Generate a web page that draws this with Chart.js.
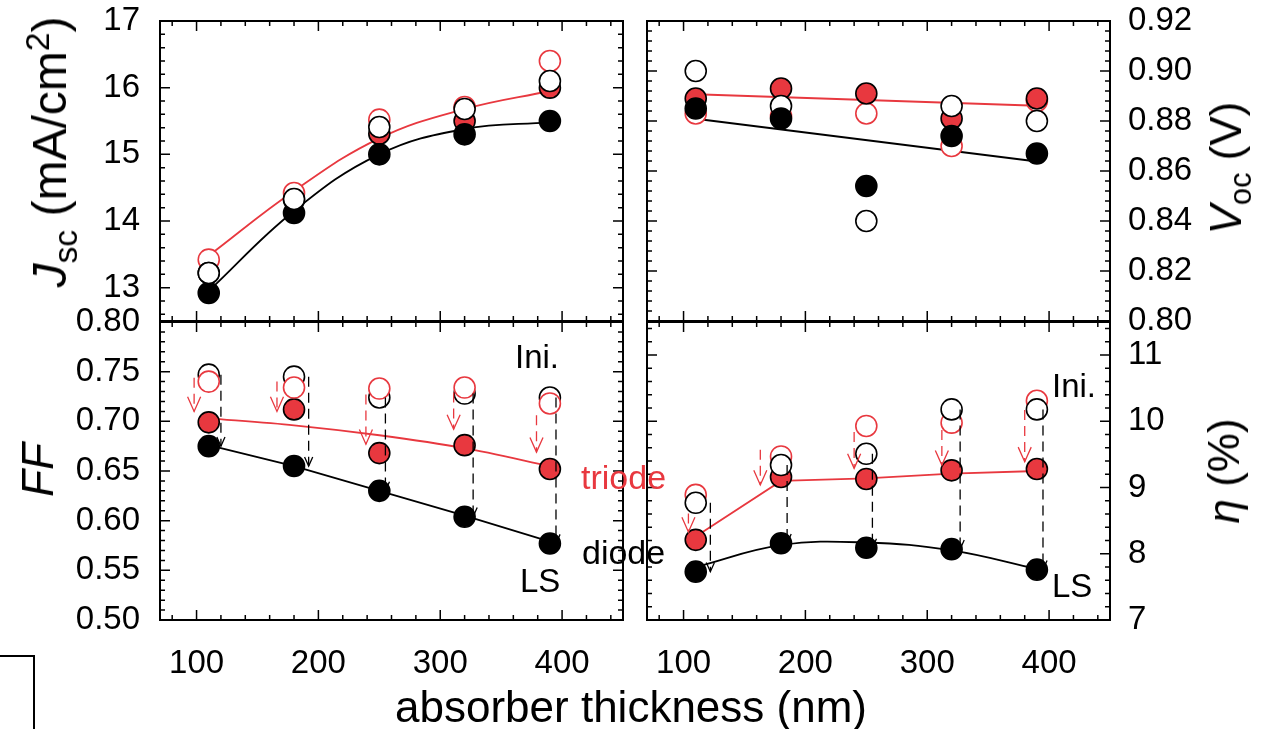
<!DOCTYPE html>
<html>
<head>
<meta charset="utf-8">
<script src="https://cdn.jsdelivr.net/npm/chart.js@4.4.0/dist/chart.umd.min.js"></script>
<style>
  body { margin: 0; background: #fff; width: 1263px; height: 729px; overflow: hidden; position: relative;
         font-family: "Liberation Sans", Arial, sans-serif; }
  canvas { position: absolute; left: 0; top: 0; }
  .t { position: absolute; white-space: nowrap; line-height: 1; color: #000; transform: translate(-50%, -50%); }
  .r { transform: translate(-50%, -50%) rotate(-90deg); }
  .note { position: absolute; white-space: nowrap; line-height: 1; font-size: 33px; transform: translateY(-50%); }
  sub, sup { font-size: 70%; line-height: 0; }
</style>
</head>
<body>
<canvas id="jsc" width="1263" height="729"></canvas>
<canvas id="voc" width="1263" height="729"></canvas>
<canvas id="ff" width="1263" height="729"></canvas>
<canvas id="eff" width="1263" height="729"></canvas>

<div class="t r" style="left:50px;top:152px;font-size:48px;"><i>J</i><sub>sc</sub> (mA/cm<sup>2</sup>)</div>
<div class="t r" style="left:38px;top:470px;font-size:44px;"><i>FF</i></div>
<div class="t r" style="left:1226px;top:168px;font-size:44px;"><i>V</i><sub>oc</sub> (V)</div>
<div class="t r" style="left:1224px;top:471px;font-size:44px;"><i>η</i> (%)</div>
<div class="t" style="left:631px;top:707px;font-size:44px;">absorber thickness (nm)</div>

<div class="note" style="left:515px;top:356px;">Ini.</div>
<div class="note" style="left:520px;top:580px;">LS</div>
<div class="note" style="left:1052px;top:385px;">Ini.</div>
<div class="note" style="left:1052px;top:585px;">LS</div>
<div class="note" style="left:581px;top:477px;color:#e8383f;font-size:34px;">triode</div>
<div class="note" style="left:582px;top:552px;font-size:34px;">diode</div>

<div style="position:absolute;left:0;top:655px;width:33px;height:90px;border-top:2px solid #000;border-right:2px solid #000;"></div>

<script>
// absorber thickness (nm)
const thickness = [110, 180, 250, 320, 390];
const xTicks = [100, 200, 300, 400];

// Jsc (mA/cm2)
const jscTriodeIni = [13.42, 14.42, 15.52, 15.71, 16.40];
const jscTriodeLS  = [13.22, 14.32, 15.31, 15.50, 16.00];
const jscDiodeIni  = [13.22, 14.33, 15.41, 15.68, 16.10];
const jscDiodeLS   = [12.92, 14.12, 15.00, 15.30, 15.50];
const jscTriodeFit = [13.48, 14.45, 15.24, 15.68, 15.95];
const jscDiodeFit  = [12.95, 14.15, 15.00, 15.38, 15.48];
const jscTicks = [13, 14, 15, 16, 17];

// Voc (V)
const vocTriodeIni = [0.883, 0.882, 0.883, 0.870, 0.888];
const vocTriodeLS  = [0.889, 0.893, 0.891, 0.881, 0.889];
const vocDiodeIni  = [0.900, 0.886, 0.840, 0.886, 0.880];
const vocDiodeLS   = [0.885, 0.881, 0.854, 0.874, 0.867];
const vocFitX      = [110, 390];
const vocTriodeFit = [0.8907, 0.8861];
const vocDiodeFit  = [0.8809, 0.8638];
const vocTicks = [0.80, 0.82, 0.84, 0.86, 0.88, 0.90, 0.92];

// FF
const ffTriodeIni = [0.740, 0.734, 0.733, 0.734, 0.718];
const ffTriodeLS  = [0.699, 0.712, 0.668, 0.676, 0.652];
const ffDiodeIni  = [0.747, 0.745, 0.724, 0.728, 0.724];
const ffDiodeLS   = [0.675, 0.655, 0.630, 0.604, 0.577];
const ffTriodeFit = [0.703, 0.696, 0.686, 0.673, 0.655];
const ffDiodeFit  = [0.676, 0.655, 0.630, 0.605, 0.579];
const ffTriodeArrowX    = [98, 166, 239, 311, 379];
const ffTriodeArrowFrom = [0.744, 0.740, 0.727, 0.729, 0.706];
const ffTriodeArrowTo   = [0.710, 0.710, 0.677, 0.692, 0.669];
const ffDiodeArrowX     = [120, 192, 255, 327, 395];
const ffTicks = [0.50, 0.55, 0.60, 0.65, 0.70, 0.75, 0.80];

// efficiency (%)
const effTriodeIni = [8.89, 9.47, 9.93, 9.98, 10.31];
const effTriodeLS  = [8.21, 9.16, 9.13, 9.26, 9.28];
const effDiodeIni  = [8.77, 9.34, 9.51, 10.18, 10.18];
const effDiodeLS   = [7.73, 8.16, 8.09, 8.07, 7.76];
const effTriodeFit = [8.26, 9.10, 9.14, 9.21, 9.25];
const effDiodeFit  = [7.80, 8.13, 8.17, 8.05, 7.77];
const effTriodeArrowX    = [104, 163, 240, 312, 380];
const effTriodeArrowFrom = [8.61, 9.57, 9.84, 9.87, 10.17];
const effTriodeArrowTo   = [8.33, 9.04, 9.29, 9.34, 9.39];
const effDiodeArrowX     = [122, 185, 255, 327, 395];
const effTicks = [7, 8, 9, 10, 11];

const W = 1263, H = 729;
const RED = '#e8383f';
const FONT = { family: 'Liberation Sans', size: 33 };

const pts = (xs, ys) => xs.map((x, i) => ({ x: x, y: ys[i] }));
const arrowPts = (xs, from, to) => xs.flatMap((x, i) => [{ x: x, y: from[i] }, { x: x, y: to[i] }, { x: x, y: null }]);

function openDots(ys, color) {
  return { data: pts(thickness, ys), showLine: false, pointRadius: 10.5, pointBorderWidth: 1.6,
           pointBackgroundColor: '#fff', pointBorderColor: color };
}
function filledDots(ys, fill) {
  return { data: pts(thickness, ys), showLine: false, pointRadius: 10.5, pointBorderWidth: 1.6,
           pointBackgroundColor: fill, pointBorderColor: '#000' };
}
function fitLine(xs, ys, color, tension) {
  return { data: pts(xs, ys), showLine: true, borderColor: color, borderWidth: 1.8,
           pointRadius: 0, tension: tension };
}
function arrows(xs, from, to, color, head) {
  return { data: arrowPts(xs, from, to), showLine: true, spanGaps: false, borderColor: color,
           borderWidth: 1.3, borderDash: [10, 6], pointRadius: 0, arrow: head };
}

// frame with inward ticks on all four sides
const framePlugin = {
  id: 'frame',
  afterDatasetsDraw(chart, args, o) {
    const { ctx, chartArea: a, scales: { x, y } } = chart;
    ctx.save();
    ctx.strokeStyle = '#000';
    ctx.lineWidth = 1.5;
    const each = (scale, minor, major, fn) => {
      const i0 = Math.ceil(scale.min / minor - 1e-6), i1 = Math.floor(scale.max / minor + 1e-6);
      for (let i = i0; i <= i1; i++) {
        const v = i * minor;
        const big = Math.abs(v / major - Math.round(v / major)) < 1e-6;
        fn(scale.getPixelForValue(v), big ? 10 : 5);
      }
    };
    ctx.beginPath();
    each(x, o.xMinor, o.xMajor, (p, l) => {
      ctx.moveTo(p, a.bottom); ctx.lineTo(p, a.bottom - l);
      ctx.moveTo(p, a.top); ctx.lineTo(p, a.top + l);
    });
    each(y, o.yMinor, o.yMajor, (p, l) => {
      ctx.moveTo(a.left, p); ctx.lineTo(a.left + l, p);
      ctx.moveTo(a.right, p); ctx.lineTo(a.right - l, p);
    });
    ctx.stroke();
    ctx.lineWidth = 2;
    ctx.strokeRect(a.left, a.top, a.right - a.left, a.bottom - a.top);
    ctx.restore();
  }
};

// open arrow heads at the end of every dashed segment
const arrowPlugin = {
  id: 'arrowHeads',
  afterDatasetsDraw(chart) {
    const ctx = chart.ctx;
    chart.data.datasets.forEach((ds, di) => {
      if (!ds.arrow) return;
      const els = chart.getDatasetMeta(di).data;
      const len = ds.arrow;
      ctx.save();
      ctx.strokeStyle = ds.borderColor;
      ctx.lineWidth = 1.3;
      for (let i = 1; i < els.length; i++) {
        if (ds.data[i].y == null || ds.data[i - 1].y == null) continue;
        const p = els[i], q = els[i - 1];
        const ang = Math.atan2(p.y - q.y, p.x - q.x);
        const spread = 0.42;
        ctx.beginPath();
        ctx.moveTo(p.x - len * Math.cos(ang - spread), p.y - len * Math.sin(ang - spread));
        ctx.lineTo(p.x, p.y);
        ctx.lineTo(p.x - len * Math.cos(ang + spread), p.y - len * Math.sin(ang + spread));
        ctx.stroke();
      }
      ctx.restore();
    });
  }
};

// axis boxes get a fixed size so every panel's plot area sits where the reference has it
const fixSize = n => s => {
  if (s.isHorizontal()) s.height = n; else s.width = n;
  s.paddingTop = 0; s.paddingBottom = 0; s.paddingLeft = 0; s.paddingRight = 0;
};

function panel(id, area, showX, yCfg, frame, datasets) {
  const left = yCfg.side === 'left';
  const yW = left ? area[0] : W - area[2];
  const xH = showX ? H - area[3] : 0;
  new Chart(document.getElementById(id), {
    type: 'scatter',
    data: { datasets: datasets },
    plugins: [framePlugin, arrowPlugin],
    options: {
      responsive: false,
      animation: false,
      events: [],
      layout: { padding: {
        left: left ? 0 : area[0],
        right: left ? W - area[2] : 0,
        top: area[1],
        bottom: showX ? 0 : H - area[3]
      } },
      plugins: { legend: { display: false }, tooltip: { enabled: false }, frame: frame },
      scales: {
        x: {
          type: 'linear', min: 70, max: 450,
          grid: { display: false, drawTicks: false }, border: { display: false },
          ticks: { display: showX, padding: 24, font: FONT, color: '#000', autoSkip: false, maxRotation: 0 },
          afterBuildTicks: s => { s.ticks = xTicks.map(v => ({ value: v })); },
          afterFit: fixSize(xH)
        },
        y: {
          type: 'linear', position: yCfg.side, min: yCfg.min, max: yCfg.max,
          grid: { display: false, drawTicks: false }, border: { display: false },
          ticks: { padding: left ? 20 : 18, font: FONT, color: '#000', autoSkip: false,
                   callback: v => v.toFixed(yCfg.dec) },
          afterBuildTicks: s => { s.ticks = yCfg.ticks.map(v => ({ value: v })); },
          afterFit: fixSize(yW)
        }
      }
    }
  });
}

panel('jsc', [160, 21, 623, 321], false,
  { side: 'left', min: 12.5, max: 17, ticks: jscTicks, dec: 0 },
  { xMajor: 100, xMinor: 20, yMajor: 1, yMinor: 0.2 },
  [
    openDots(jscDiodeIni, '#000'),
    filledDots(jscDiodeLS, '#000'),
    filledDots(jscTriodeLS, RED),
    openDots(jscTriodeIni, RED),
    fitLine(thickness, jscTriodeFit, RED, 0.4),
    fitLine(thickness, jscDiodeFit, '#000', 0.4)
  ]);

panel('voc', [647, 21, 1110, 321], false,
  { side: 'right', min: 0.80, max: 0.92, ticks: vocTicks, dec: 2 },
  { xMajor: 100, xMinor: 20, yMajor: 0.02, yMinor: 0.004 },
  [
    filledDots(vocDiodeLS, '#000'),
    openDots(vocDiodeIni, '#000'),
    filledDots(vocTriodeLS, RED),
    openDots(vocTriodeIni, RED),
    fitLine(vocFitX, vocTriodeFit, RED, 0),
    fitLine(vocFitX, vocDiodeFit, '#000', 0)
  ]);

panel('ff', [160, 322, 623, 620], true,
  { side: 'left', min: 0.50, max: 0.80, ticks: ffTicks, dec: 2 },
  { xMajor: 100, xMinor: 20, yMajor: 0.05, yMinor: 0.01 },
  [
    arrows(ffDiodeArrowX, ffDiodeIni, ffDiodeLS, '#000', 10),
    arrows(ffTriodeArrowX, ffTriodeArrowFrom, ffTriodeArrowTo, RED, 16),
    openDots(ffTriodeIni, RED),
    openDots(ffDiodeIni, '#000'),
    filledDots(ffTriodeLS, RED),
    filledDots(ffDiodeLS, '#000'),
    fitLine(thickness, ffTriodeFit, RED, 0.3),
    fitLine(thickness, ffDiodeFit, '#000', 0)
  ]);

panel('eff', [647, 322, 1110, 620], true,
  { side: 'right', min: 7, max: 11.5, ticks: effTicks, dec: 0 },
  { xMajor: 100, xMinor: 20, yMajor: 1, yMinor: 0.2 },
  [
    arrows(effDiodeArrowX, effDiodeIni, effDiodeLS, '#000', 10),
    arrows(effTriodeArrowX, effTriodeArrowFrom, effTriodeArrowTo, RED, 16),
    openDots(effDiodeIni, '#000'),
    openDots(effTriodeIni, RED),
    filledDots(effTriodeLS, RED),
    filledDots(effDiodeLS, '#000'),
    fitLine(thickness, effTriodeFit, RED, 0),
    fitLine(thickness, effDiodeFit, '#000', 0.4)
  ]);
</script>
</body>
</html>
